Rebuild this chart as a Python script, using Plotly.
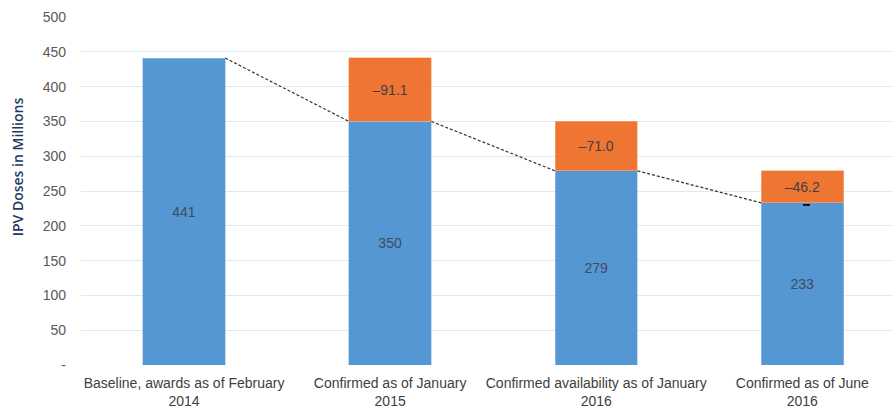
import plotly.graph_objects as go

categories = ["Baseline, awards as of February<br>2014", "Confirmed as of January<br>2015",
              "Confirmed availability as of January<br>2016", "Confirmed as of June<br>2016"]
confirmed = [441, 350, 279, 233]
reduction = [None, 91.1, 71.0, 46.2]
confirmed_labels = ["441", "350", "279", "233"]
reduction_labels = ["", "\u201391.1", "\u201371.0", "\u201346.2"]
y_ticks = [0, 50, 100, 150, 200, 250, 300, 350, 400, 450, 500]
y_ticklabels = ["-", "50", "100", "150", "200", "250", "300", "350", "400", "450", "500"]
y_title = "IPV Doses in Millions"

BAR_W = 0.4
xs = list(range(len(categories)))

fig = go.Figure()
fig.add_trace(go.Bar(
    x=xs, y=confirmed, width=BAR_W,
    marker=dict(color="#5597d2", line=dict(width=0.6, color="#9fc3e6")),
    text=confirmed_labels, textposition="inside", insidetextanchor="middle",
    textfont=dict(color="#3f4b5e", size=14, family="Liberation Sans, Arial"),
    textangle=0, hoverinfo="skip"))
fig.add_trace(go.Bar(
    x=xs, y=reduction, width=BAR_W,
    marker=dict(color="#ee7532", line=dict(width=0.6, color="#f6b08a")),
    text=reduction_labels, textposition="inside", insidetextanchor="middle",
    textfont=dict(color="#404040", size=14, family="Liberation Sans, Arial"),
    textangle=0, hoverinfo="skip"))

# dashed connector between consecutive confirmed levels
lx, ly = [], []
for i in range(len(confirmed) - 1):
    lx += [xs[i] + BAR_W / 2, xs[i + 1] - BAR_W / 2, None]
    ly += [confirmed[i], confirmed[i + 1], None]
fig.add_trace(go.Scatter(x=lx, y=ly, mode="lines",
                         line=dict(color="#333333", width=1.2, dash="3px,2px"),
                         hoverinfo="skip"))
fig.add_trace(go.Scatter(x=[xs[-1] + 0.02], y=[confirmed[-1] - 3], mode="markers",
                         marker=dict(symbol="line-ew", size=5, line=dict(color="#111", width=2)),
                         hoverinfo="skip"))

fig.add_annotation(text=y_title, xref="paper", yref="paper", x=-0.078, y=0.57,
                   xanchor="center", yanchor="middle", textangle=-90, showarrow=False,
                   font=dict(family="Open Sans", size=14, weight=600, color="#1f3a5f"))

fig.update_layout(
    barmode="stack", showlegend=False,
    width=893, height=413,
    margin=dict(l=81, r=0, t=17, b=48),
    paper_bgcolor="white", plot_bgcolor="white",
    font=dict(family="Liberation Sans, Arial", size=14, color="#595959"),
    xaxis=dict(tickmode="array", tickvals=xs, ticktext=categories,
               range=[-0.5, 3.44], showgrid=False, zeroline=False,
               ticklabelstandoff=8,
               tickfont=dict(size=14, color="#404040")),
    yaxis=dict(range=[0, 500], tickmode="array", tickvals=y_ticks, ticktext=y_ticklabels,
               showgrid=True, gridcolor="#e3e8ef", gridwidth=1, zeroline=False,
               ticklabelstandoff=14,
               tickfont=dict(size=14, color="#595959")),
)

fig.write_html("out.html")
